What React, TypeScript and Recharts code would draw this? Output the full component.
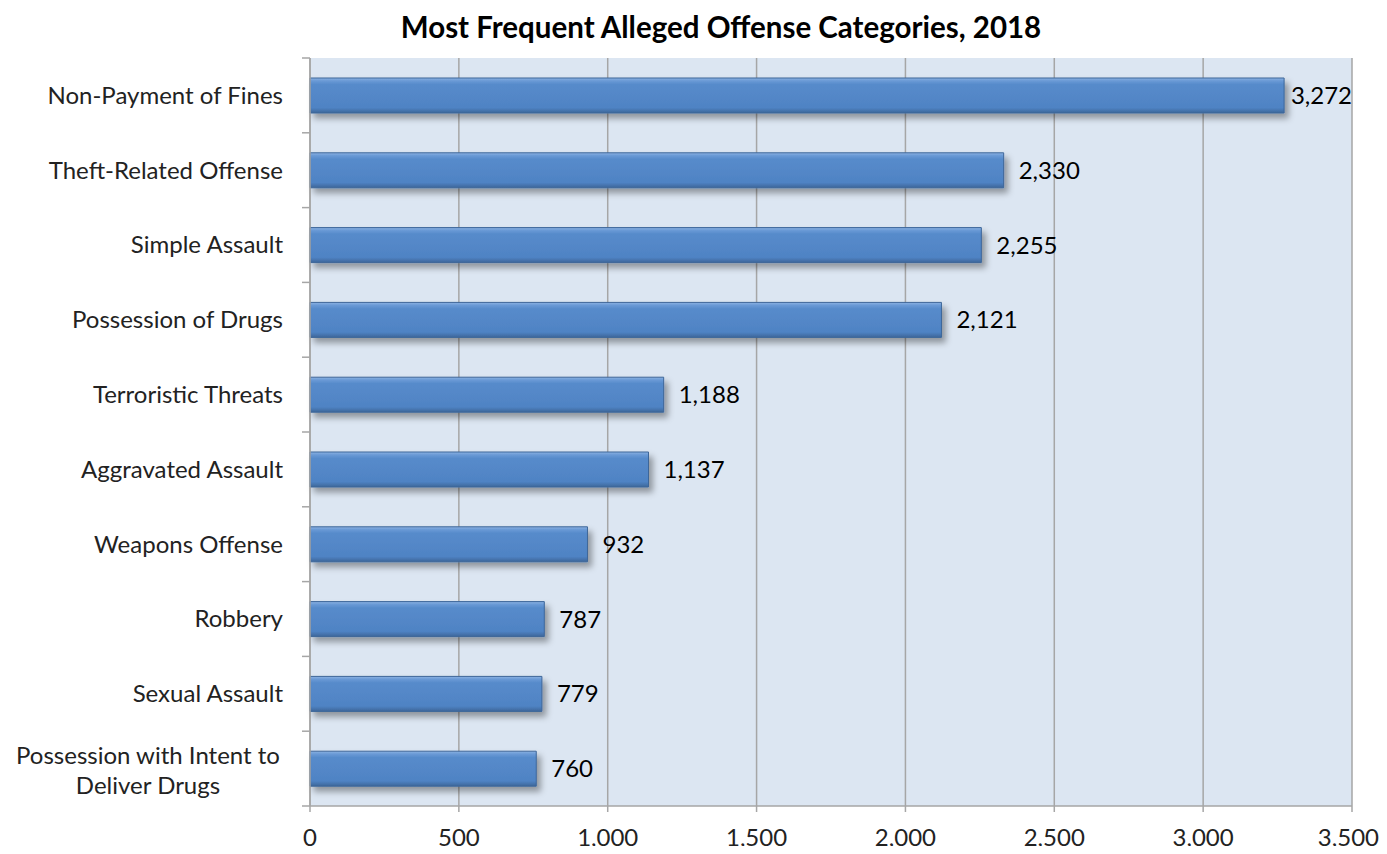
import React from "react";
import { BarChart, Bar, XAxis, YAxis, CartesianGrid, LabelList } from "recharts";

const categories = [
  "Non-Payment of Fines",
  "Theft-Related Offense",
  "Simple Assault",
  "Possession of Drugs",
  "Terroristic Threats",
  "Aggravated Assault",
  "Weapons Offense",
  "Robbery",
  "Sexual Assault",
  "Possession with Intent to Deliver Drugs",
];
const counts = [3272, 2330, 2255, 2121, 1188, 1137, 932, 787, 779, 760];
const xTicks = [0, 500, 1000, 1500, 2000, 2500, 3000, 3500];
const title = "Most Frequent Alleged Offense Categories, 2018";

const data = categories.map((c, i) => ({ name: c, value: counts[i] }));

const FONT = "Lato, 'Open Sans', sans-serif";
const HALF_BAND = 37.4;
const PLOT_RIGHT = 1352;

const fmt = (v: number) => v.toLocaleString("en-US");

function wrap(label: string, max: number): string[] {
  const words = label.split(" ");
  const lines: string[] = [];
  let cur = "";
  for (const w of words) {
    const t = cur ? cur + " " + w : w;
    if (t.length > max && cur) {
      lines.push(cur);
      cur = w;
    } else cur = t;
  }
  if (cur) lines.push(cur);
  return lines;
}

const YTick = (props: any) => {
  const { x, y, payload, index } = props;
  const lines = wrap(String(payload.value), 25);
  const last = index === categories.length - 1;
  return (
    <g>
      <line x1={x - 8} x2={x} y1={y - HALF_BAND} y2={y - HALF_BAND} stroke="#A6A6A6" strokeWidth={1.5} />
      {last && <line x1={x - 8} x2={x} y1={y + HALF_BAND} y2={y + HALF_BAND} stroke="#A6A6A6" strokeWidth={1.5} />}
      {lines.length === 1 ? (
        <text x={x - 27} y={y} dy="0.35em" textAnchor="end" fontSize={24} fontFamily={FONT} fill="#222">
          {lines[0]}
        </text>
      ) : (
        lines.map((l, i) => (
          <text
            key={i}
            x={x - 162}
            y={y + 2 + (i - (lines.length - 1) / 2) * 30}
            dy="0.35em"
            textAnchor="middle"
            fontSize={24}
            fontFamily={FONT}
            fill="#222"
          >
            {l}
          </text>
        ))
      )}
    </g>
  );
};

const XTick = (props: any) => {
  const { x, y, payload } = props;
  const v = Number(payload.value);
  const isLast = v === xTicks[xTicks.length - 1];
  return (
    <text
      x={isLast ? x + 27 : x}
      y={y}
      dy="0.71em"
      textAnchor={isLast ? "end" : "middle"}
      fontSize={24}
      fontFamily={FONT}
      fill="#222"
    >
      {fmt(v)}
    </text>
  );
};

const ValueLabel = (props: any) => {
  const { x, y, width, height, value } = props;
  const s = fmt(Number(value));
  let est = 0;
  for (const ch of s) est += ch === "," ? 5.5 : 13.9;
  let tx = x + width + 15;
  if (tx + est > PLOT_RIGHT) tx = Math.max(x + width + 5, PLOT_RIGHT - est);
  return (
    <text x={tx} y={y + height / 2} dy="0.35em" fontSize={24} fontFamily={FONT} fill="#000">
      {s}
    </text>
  );
};

export default function App() {
  return (
    <div
      style={{
        position: "relative",
        width: 1387,
        height: 854,
        marginLeft: -8,
        marginTop: -8,
        marginBottom: -8,
        overflow: "hidden",
      }}
    >
      <style>{"html,body{overflow:hidden;}"}</style>
      <div
        style={{
          position: "absolute",
          left: 0,
          top: 9,
          width: 1442,
          textAlign: "center",
          fontFamily: FONT,
          fontWeight: 700,
          fontSize: 29.5,
          lineHeight: "36px",
          color: "#000",
        }}
      >
        {title}
      </div>
      <BarChart
        width={1387}
        height={854}
        data={data}
        layout="vertical"
        margin={{ top: 58, right: 35, bottom: 8, left: 0 }}
        barSize={35}
      >
        <defs>
          <linearGradient id="barGrad" x1="0" y1="0" x2="0" y2="1">
            <stop offset="0%" stopColor="#8DB3E2" />
            <stop offset="8%" stopColor="#6A9AD6" />
            <stop offset="18%" stopColor="#578BCB" />
            <stop offset="85%" stopColor="#4F83C4" />
            <stop offset="100%" stopColor="#3D6699" />
          </linearGradient>
          <filter id="barShadow" x="-5%" y="-30%" width="115%" height="180%">
            <feDropShadow dx="4" dy="5" stdDeviation="3" floodColor="#000" floodOpacity="0.35" />
          </filter>
        </defs>
        <CartesianGrid horizontal={false} vertical stroke="#A6A6A6" strokeWidth={1.5} fill="#DCE6F2" />
        <XAxis
          type="number"
          domain={[0, 3500]}
          ticks={xTicks}
          height={40}
          tickSize={6}
          tickMargin={17}
          axisLine={{ stroke: "#A6A6A6", strokeWidth: 1.5 }}
          tickLine={{ stroke: "#A6A6A6", strokeWidth: 1.5 }}
          tick={<XTick />}
        />
        <XAxis
          xAxisId="top"
          orientation="top"
          type="number"
          domain={[0, 3500]}
          height={0}
          tick={false}
          tickLine={false}
          axisLine={{ stroke: "#A6A6A6", strokeWidth: 1.5 }}
        />
        <YAxis
          type="category"
          dataKey="name"
          width={310}
          tickLine={false}
          tickSize={0}
          tickMargin={0}
          interval={0}
          axisLine={{ stroke: "#A6A6A6", strokeWidth: 1.5 }}
          tick={<YTick />}
        />
        <Bar
          dataKey="value"
          fill="url(#barGrad)"
          stroke="#3D6699"
          strokeWidth={1}
          filter="url(#barShadow)"
          isAnimationActive={false}
        >
          <LabelList dataKey="value" content={<ValueLabel />} />
        </Bar>
      </BarChart>
    </div>
  );
}
